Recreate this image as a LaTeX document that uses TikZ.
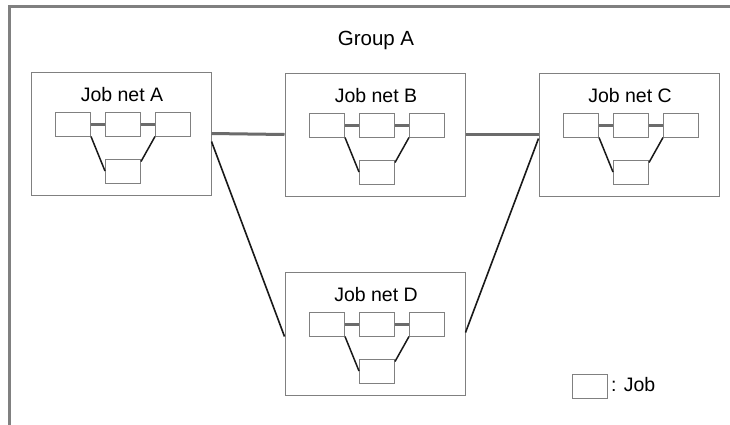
\documentclass[tikz,border=0pt]{standalone}
\usepackage{fontspec}
\setmainfont{Liberation Sans}
\begin{document}
\begin{tikzpicture}[x=1pt,y=-1pt,
  frame/.style={draw=black!50,line width=2.5pt},
  netbox/.style={draw=black!50,line width=1pt,minimum width=180pt,minimum height=123pt,inner sep=0pt},
  jobbox/.style={draw=black!50,line width=1pt,minimum width=35pt,minimum height=24pt,inner sep=0pt},
  lbl/.style={font=\fontsize{19.5}{22}\selectfont,inner sep=0pt},
  biglbl/.style={font=\fontsize{20.5}{24}\selectfont,inner sep=0pt},
  seqline/.style={draw=black!58,line width=3pt},
  branch/.style={draw=black!90,line width=1.5pt},
  netlink/.style={draw=black!58,line width=3pt},
  crosslink/.style={draw=black!90,line width=1.6pt},
  jobnet/.pic={
    \node[netbox] (-net) at (90,61.5) {};
    \node[lbl,anchor=base] (-title) at (91,29) {#1};
    \node[jobbox] (-j1) at (42,52) {};
    \node[jobbox] (-j2) at (92,52) {};
    \node[jobbox] (-j3) at (142,52) {};
    \node[jobbox] (-j4) at (92,99) {};
    \draw[seqline] (-j1.east) -- (-j2.west);
    \draw[seqline] (-j2.east) -- (-j3.west);
    \draw[branch] (-j1.south east) -- (-j4.west);
    \draw[branch] (-j3.south west) -- ([yshift=-3pt]-j4.north east);
  }]
\useasboundingbox (0,0) rectangle (730,424);
\fill[white] (0,0) rectangle (730,424);
\begin{scope}
\clip (0,0) rectangle (730,424);
\coordinate (fbl) at (9.5,440);
\coordinate (ftl) at (9.5,6.7);
\coordinate (ftr) at (745,6.7);
\draw[frame] (fbl) -- (ftl) -- (ftr);
\end{scope}
\node[biglbl,anchor=base] (group) at (376,45) {Group A};
\pic (A) at (31,72) {jobnet=Job net A};
\pic (B) at (285,73) {jobnet=Job net B};
\pic (C) at (539,73) {jobnet=Job net C};
\pic (D) at (285,272) {jobnet=Job net D};
\draw[netlink] (A-net.east) -- (B-net.west);
\draw[netlink] (B-net.east) -- (C-net.west);
\draw[crosslink] ([yshift=-8pt]A-net.east) -- ([yshift=-3pt]D-net.west);
\draw[crosslink] ([yshift=-4pt]C-net.west) -- ([yshift=1pt]D-net.east);
\node[jobbox] (legbox) at (589.5,386) {};
\node[lbl,anchor=base west] (legtext) at (611,391) {: Job};
\end{tikzpicture}
\end{document}
